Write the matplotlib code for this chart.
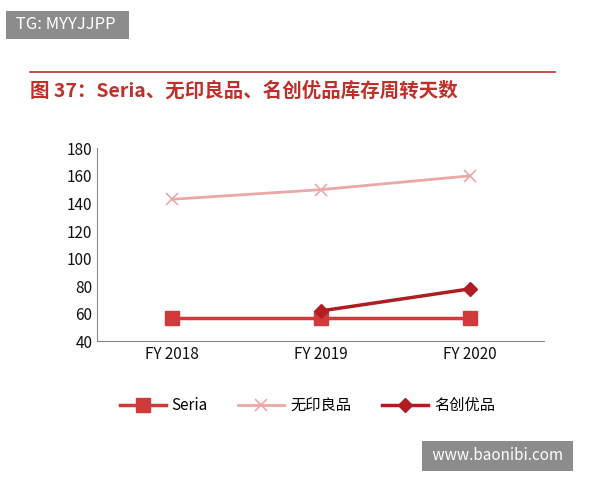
import matplotlib.pyplot as plt

plt.rcParams['font.family'] = ['Noto Sans CJK SC', 'DejaVu Sans']

years = ['FY 2018', 'FY 2019', 'FY 2020']
seria = [57, 57, 57]
muji = [143, 150, 160]
miniso_x = [1, 2]
miniso = [62, 78]

fig = plt.figure(figsize=(6, 4.8), dpi=100)
ax = fig.add_axes([0.162, 0.289, 0.745, 0.402])

ax.plot(range(3), seria, color='#d03a3a', lw=2.5, marker='s', ms=10, label='Seria')
ax.plot(range(3), muji, color='#eaa8a8', lw=2, marker='x', ms=9, mew=1.2, label='无印良品')
ax.plot(miniso_x, miniso, color='#b01e24', lw=2.5, marker='D', ms=7, label='名创优品')

ax.set_xlim(-0.5, 2.5)
ax.set_ylim(40, 180)
ax.set_yticks(range(40, 181, 20))
ax.set_xticks(range(3))
ax.set_xticklabels(years)
ax.tick_params(labelsize=11, length=0, labelcolor='#111111')
for s in ['top', 'right']:
    ax.spines[s].set_visible(False)
ax.spines['left'].set_color('#888888')
ax.spines['bottom'].set_color('#888888')

ax.legend(loc='upper center', bbox_to_anchor=(0.47, -0.22), ncol=3, frameon=False,
          fontsize=11, handlelength=3.0, columnspacing=2.0, handletextpad=0.4)

fig.text(0.02, 0.948, ' TG: MYYJJPP  ', fontsize=12, color='white', va='center',
         bbox=dict(facecolor='#8c8c8c', edgecolor='none', pad=4))
fig.add_artist(plt.Line2D([0.05, 0.925], [0.85, 0.85], color='#c0302a', lw=1.2))
fig.text(0.05, 0.81, '图 37：Seria、无印良品、名创优品库存周转天数', fontsize=14,
         color='#c0302a', fontweight='bold', va='center')
fig.text(0.715, 0.05, ' www.baonibi.com ', fontsize=11, color='white', va='center',
         bbox=dict(facecolor='#8c8c8c', edgecolor='none', pad=5))

fig.savefig('out.png')
